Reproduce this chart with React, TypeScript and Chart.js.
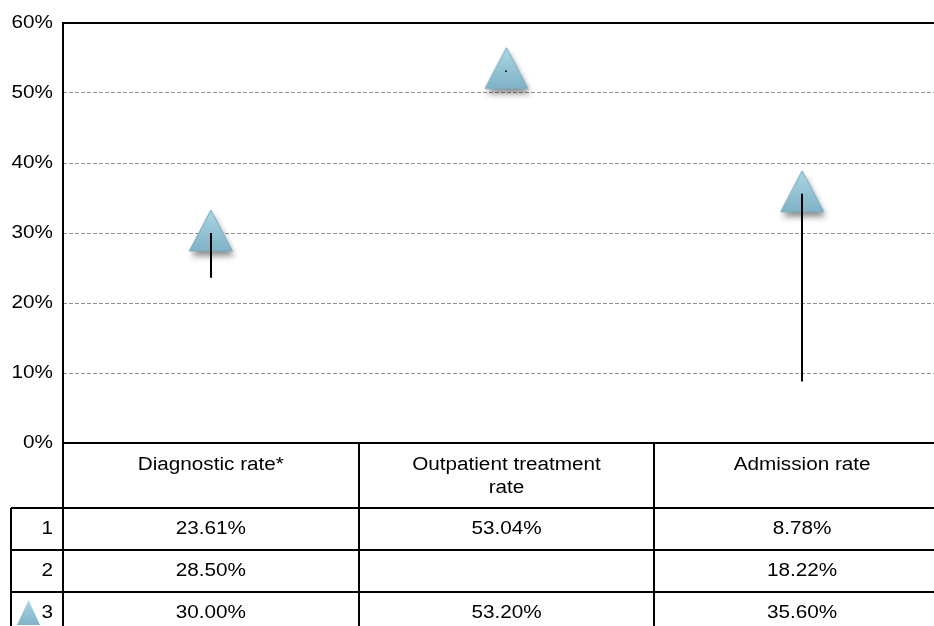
import React, { useEffect, useRef } from "react";
import { Chart, registerables } from "chart.js";

Chart.register(...registerables);

const categories: string[][] = [["Diagnostic rate*"], ["Outpatient treatment", "rate"], ["Admission rate"]];
const seriesNames = ["1", "2", "3"];
const series1: (number | null)[] = [23.61, 53.04, 8.78];
const series2: (number | null)[] = [28.5, null, 18.22];
const series3: (number | null)[] = [30.0, 53.2, 35.6];
const yMin = 0;
const yMax = 60;
const yStep = 10;

const FONT = "'Liberation Sans', Arial, sans-serif";
const TRI_TOP = "#acd6e4";
const TRI_BOTTOM = "#7fb3c7";
const TRI_STROKE = "#78abbf";
const STRETCH = 1.15;

const allSeries = [series1, series2, series3];

function stretchedText(ctx: CanvasRenderingContext2D, t: string, x: number, y: number, align: "left" | "right" | "center") {
  ctx.save();
  ctx.translate(x, y);
  ctx.scale(STRETCH, 1);
  ctx.textAlign = align;
  ctx.textBaseline = "middle";
  ctx.fillText(t, 0, 0);
  ctx.restore();
}

function triPath(ctx: CanvasRenderingContext2D, cx: number, top: number, bottom: number, half: number) {
  ctx.beginPath();
  ctx.moveTo(cx, top);
  ctx.lineTo(cx + half, bottom);
  ctx.lineTo(cx - half, bottom);
  ctx.closePath();
}

function makeMarker(): HTMLCanvasElement {
  const c = document.createElement("canvas");
  c.width = 70;
  c.height = 80;
  const ctx = c.getContext("2d")!;
  const cx = 35;
  const cy = 40;
  const top = cy - 23;
  const bottom = cy + 18;
  const half = 21.5;
  // shadow
  ctx.save();
  ctx.shadowColor = "rgba(0,0,0,0.45)";
  ctx.shadowBlur = 6;
  ctx.shadowOffsetX = 2;
  ctx.shadowOffsetY = 5;
  triPath(ctx, cx, top, bottom, half);
  ctx.fillStyle = TRI_BOTTOM;
  ctx.fill();
  ctx.restore();
  const g = ctx.createLinearGradient(0, top, 0, bottom);
  g.addColorStop(0, TRI_TOP);
  g.addColorStop(1, TRI_BOTTOM);
  triPath(ctx, cx, top, bottom, half);
  ctx.fillStyle = g;
  ctx.fill();
  ctx.strokeStyle = TRI_STROKE;
  ctx.lineWidth = 1;
  ctx.stroke();
  return c;
}

const tablePlugin = {
  id: "dataTable",
  afterDatasetsDraw(chart: any) {
    const { ctx, scales } = chart;
    const x = scales.x;
    const y = scales.y;
    ctx.save();
    ctx.strokeStyle = "#000";
    ctx.lineWidth = 2;
    categories.forEach((_, i) => {
      const vals = allSeries.map((s) => s[i]).filter((v) => v != null) as number[];
      const lo = Math.min(...vals);
      const hi = Math.max(...vals);
      const px = Math.round(x.getPixelForValue(i));
      ctx.beginPath();
      ctx.moveTo(px, y.getPixelForValue(lo));
      ctx.lineTo(px, y.getPixelForValue(hi));
      ctx.stroke();
    });
    ctx.restore();
  },
  afterDraw(chart: any) {
    const { ctx, chartArea, scales } = chart;
    const x = scales.x;
    const y = scales.y;
    const W = chart.width;
    const H = chart.height;
    const left = chartArea.left;
    const top = chartArea.top;
    const y0 = chartArea.bottom;
    const headerH = 65;
    const rowH = 42;
    const labelLeft = 11;
    const hdrBottom = y0 + headerH;
    ctx.save();
    ctx.strokeStyle = "#000";
    ctx.lineWidth = 2;
    const line = (x1: number, y1: number, x2: number, y2: number) => {
      ctx.beginPath();
      ctx.moveTo(x1, y1);
      ctx.lineTo(x2, y2);
      ctx.stroke();
    };
    // plot frame
    line(left, top, W, top);
    line(left, top - 1, left, H);
    line(left, y0, W, y0);
    // table horizontal lines
    for (let r = 0; r < seriesNames.length; r++) {
      const yy = hdrBottom + r * rowH;
      line(labelLeft, yy, W, yy);
    }
    line(labelLeft, hdrBottom, labelLeft, H);
    // column separators
    for (let i = 0; i < categories.length - 1; i++) {
      const bx = Math.round(x.getPixelForValue(i + 0.5));
      line(bx, y0, bx, H);
    }
    ctx.fillStyle = "#000";
    ctx.font = `18px ${FONT}`;
    // y tick labels
    y.ticks.forEach((t: any) => {
      stretchedText(ctx, `${t.value}%`, left - 10, y.getPixelForValue(t.value), "right");
    });
    // header text
    categories.forEach((lines, i) => {
      const cx = x.getPixelForValue(i);
      lines.forEach((t, k) => stretchedText(ctx, t, cx, y0 + 22 + k * 23, "center"));
    });
    // rows
    seriesNames.forEach((name, r) => {
      const cy = hdrBottom + r * rowH + rowH / 2;
      stretchedText(ctx, name, left - 10, cy, "right");
      if (r === 2) {
        ctx.save();
        const g = ctx.createLinearGradient(0, cy - 13, 0, cy + 12);
        g.addColorStop(0, TRI_TOP);
        g.addColorStop(1, TRI_BOTTOM);
        triPath(ctx, 28.5, cy - 13, cy + 12, 11.5);
        ctx.fillStyle = g;
        ctx.fill();
        ctx.restore();
      }
      allSeries[r].forEach((v, i) => {
        if (v == null) return;
        stretchedText(ctx, v.toFixed(2) + "%", x.getPixelForValue(i), cy, "center");
      });
    });
    ctx.restore();
  },
};

export default function App() {
  const ref = useRef<HTMLCanvasElement | null>(null);
  useEffect(() => {
    if (!ref.current) return;
    const marker = makeMarker();
    const mk = (s: (number | null)[]) => s.map((v, i) => ({ x: i, y: v }));
    const chart = new Chart(ref.current, {
      type: "line",
      data: {
        datasets: [
          { label: seriesNames[0], data: mk(series1) as any, showLine: false, pointRadius: 0, pointHoverRadius: 0 },
          { label: seriesNames[1], data: mk(series2) as any, showLine: false, pointRadius: 0, pointHoverRadius: 0 },
          {
            label: seriesNames[2],
            data: mk(series3) as any,
            showLine: false,
            pointStyle: marker as any,
            pointRadius: 25,
            pointHoverRadius: 25,
            clip: false as any,
          },
        ],
      },
      options: {
        animation: false,
        responsive: false,
        maintainAspectRatio: false,
        events: [],
        layout: { autoPadding: false, padding: { top: 23, bottom: 183, left: 0, right: 0 } },
        plugins: { legend: { display: false }, tooltip: { enabled: false } },
        scales: {
          x: { type: "linear", display: false, min: -0.5, max: 2.446 },
          y: {
            min: yMin,
            max: yMax,
            afterFit: (s: any) => {
              s.width = 63;
            },
            border: { display: false, dash: [4, 2] },
            grid: {
              drawTicks: false,
              lineWidth: 1,
              color: (c: any) =>
                c.tick && (c.tick.value === yMin || c.tick.value === yMax) ? "rgba(0,0,0,0)" : "#8f8f8f",
            },
            ticks: {
              stepSize: yStep,
              padding: 10,
              color: "rgba(0,0,0,0)",
              font: { family: FONT, size: 18 },
              callback: (v: any) => `${v}%`,
            },
          },
        },
      },
      plugins: [tablePlugin],
    });
    return () => chart.destroy();
  }, []);
  return (
    <div style={{ position: "fixed", left: 0, top: 0, width: 934, height: 626, background: "#fff" }}>
      <canvas ref={ref} width={934} height={626} style={{ width: 934, height: 626, display: "block" }} />
    </div>
  );
}
